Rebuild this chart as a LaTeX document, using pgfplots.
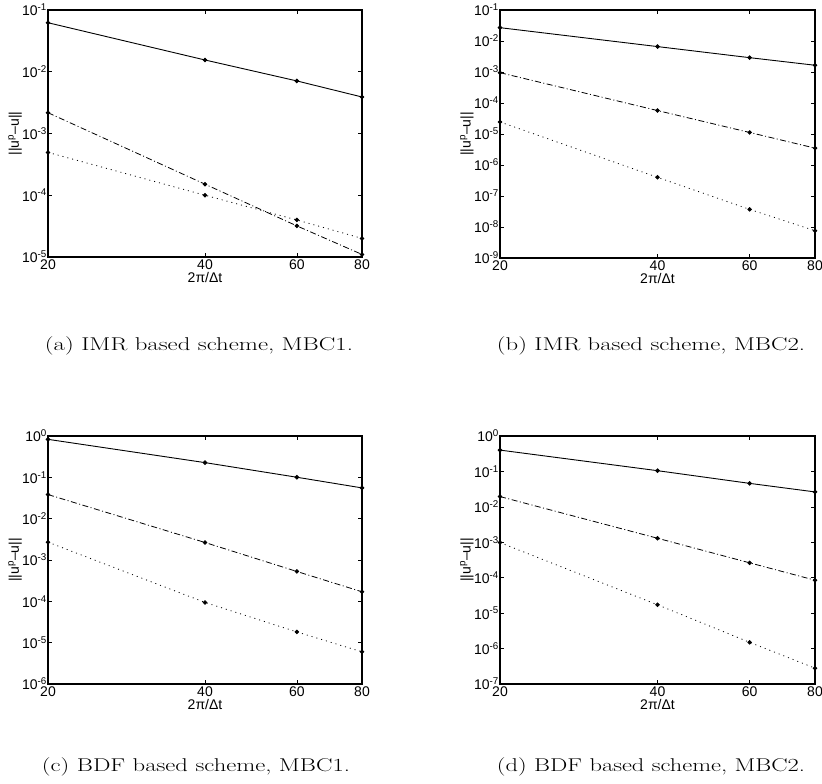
\documentclass[border=0pt]{standalone}
\usepackage{fontspec}
\usepackage{graphicx}
\usepackage{pgfplots}
\pgfplotsset{compat=1.18}
\newfontfamily\hv{Liberation Sans}
\pgfplotsset{
 myax/.style={
  scale only axis, width=314pt, height=247pt,
  log basis y=10,
  xmin=20, xmax=80,
  xtick={20,40,60,80}, xticklabels={20,40,60,80},
  minor xtick={},
  font=\hv\fontsize{14}{16}\selectfont,
  tick label style={font=\hv\fontsize{14}{16}\selectfont},
  yticklabel={\pgfmathtruncatemacro\e{round(\tick)}10\textsuperscript{\e}},
  yticklabel style={inner sep=1pt},
  xticklabel style={inner sep=2pt, yshift=-1pt},
  tick align=inside,
  axis line style={line width=1.2pt},
  major tick length=4pt, minor tick length=2pt,
  every tick/.style={black, line width=0.6pt},
  xlabel={2π/Δt}, ylabel={||u\textsuperscript{p}–u||},
  xlabel style={at={(axis description cs:0.5,-0.081)}, anchor=center, inner sep=0pt},
  ylabel style={at={(axis description cs:-0.105,0.5)}, anchor=center, inner sep=0pt},
 },
 s1/.style={black, line width=0.9pt, mark=*, mark size=1.8pt},
 s2/.style={black, line width=0.8pt, dash pattern=on 6pt off 2.5pt on 1pt off 2.5pt, mark=*, mark size=1.8pt, mark options={solid}},
 s3/.style={black, line width=0.8pt, dash pattern=on 1pt off 4pt, mark=*, mark size=1.8pt, mark options={solid}},
}
\newcommand\subcap[1]{\resizebox{308pt}{\height}{#1}}
\begin{document}
\begin{tikzpicture}[x=1pt,y=1pt]
\useasboundingbox (0,0) rectangle (822,784);
% (a)
\begin{loglogaxis}[myax, at={(48pt,527pt)}, anchor=south west,
  ymin=1e-5, ymax=1e-1, ytick={1e-5,1e-4,1e-3,1e-2,1e-1}]
\addplot[s1] coordinates {(20,0.0622) (40,0.0155) (60,0.0071) (80,0.0039)};
\addplot[s2] coordinates {(20,2.17e-3) (40,1.51e-4) (60,3.19e-5) (80,1.1e-5)};
\addplot[s3] coordinates {(20,4.94e-4) (40,1.0e-4) (60,3.98e-5) (80,2.0e-5)};
\end{loglogaxis}
% (b)
\begin{loglogaxis}[myax, at={(500pt,526pt)}, anchor=south west, width=315pt, height=248pt,
  ymin=1e-9, ymax=1e-1, ytick={1e-9,1e-8,1e-7,1e-6,1e-5,1e-4,1e-3,1e-2,1e-1}]
\addplot[s1] coordinates {(20,0.0269) (40,0.0066) (60,0.0029) (80,0.00165)};
\addplot[s2] coordinates {(20,9.5e-4) (40,5.7e-5) (60,1.12e-5) (80,3.5e-6)};
\addplot[s3] coordinates {(20,2.45e-5) (40,4.0e-7) (60,3.7e-8) (80,7.6e-9)};
\end{loglogaxis}
% (c)
\begin{loglogaxis}[myax, at={(48pt,100pt)}, anchor=south west, height=248pt,
  ymin=1e-6, ymax=1, ytick={1e-6,1e-5,1e-4,1e-3,1e-2,1e-1,1}]
\addplot[s1] coordinates {(20,0.83) (40,0.227) (60,0.1005) (80,0.0555)};
\addplot[s2] coordinates {(20,0.0383) (40,2.65e-3) (60,5.28e-4) (80,1.7e-4)};
\addplot[s3] coordinates {(20,2.7e-3) (40,9.4e-5) (60,1.82e-5) (80,6.0e-6)};
\end{loglogaxis}
% (d)
\begin{loglogaxis}[myax, at={(500pt,100pt)}, anchor=south west, width=315pt, height=248pt,
  ymin=1e-7, ymax=1, ytick={1e-7,1e-6,1e-5,1e-4,1e-3,1e-2,1e-1,1}]
\addplot[s1] coordinates {(20,0.40) (40,0.105) (60,0.046) (80,0.0264)};
\addplot[s2] coordinates {(20,0.0195) (40,1.3e-3) (60,2.63e-4) (80,8.5e-5)};
\addplot[s3] coordinates {(20,9.8e-4) (40,1.72e-5) (60,1.5e-6) (80,2.8e-7)};
\end{loglogaxis}
\begin{scope}[font=\fontsize{18.5}{22}\selectfont]
\node[anchor=base] at (199,433) {\subcap{(a) IMR based scheme, MBC1.}};
\node[anchor=base] at (651,433) {\subcap{(b) IMR based scheme, MBC2.}};
\node[anchor=base] at (196,12) {\subcap{(c) BDF based scheme, MBC1.}};
\node[anchor=base] at (651,12) {\subcap{(d) BDF based scheme, MBC2.}};
\end{scope}
\end{tikzpicture}
\end{document}
